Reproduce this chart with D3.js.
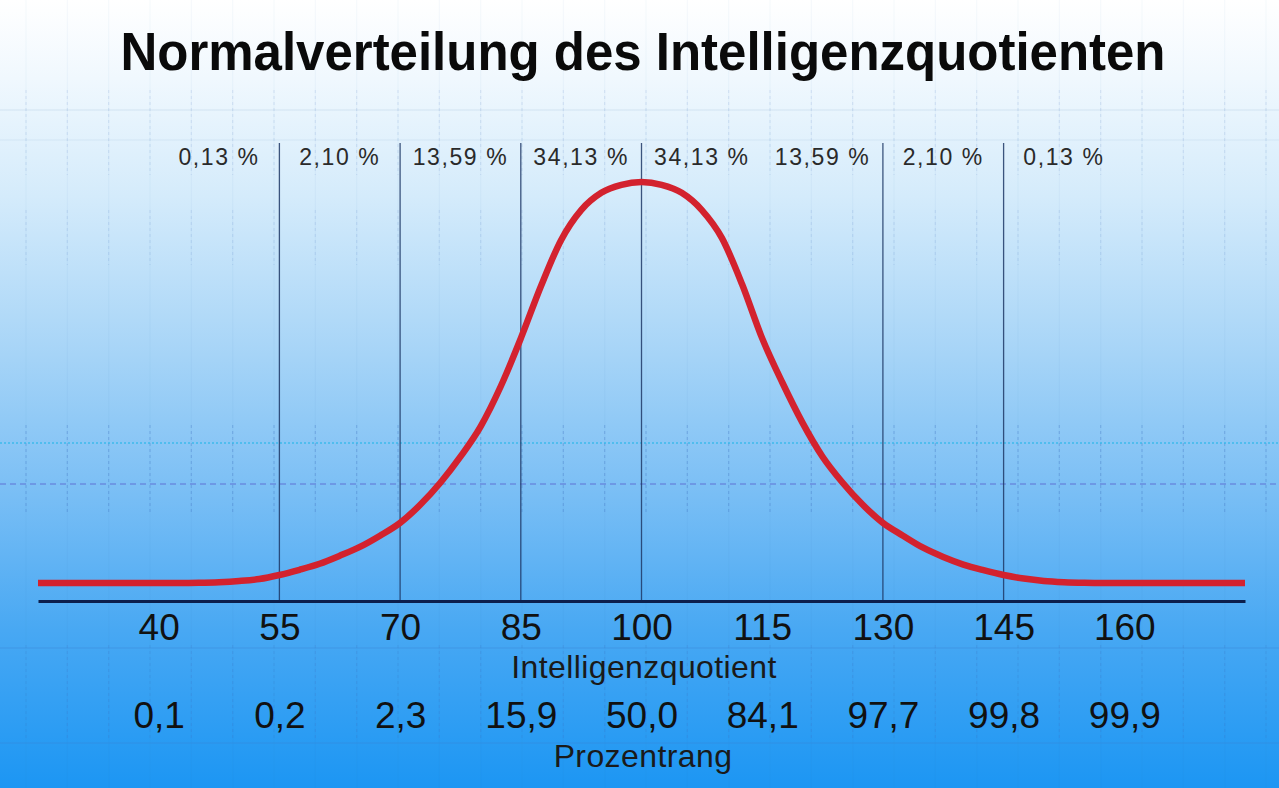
<!DOCTYPE html>
<html>
<head>
<meta charset="utf-8">
<script src="https://cdn.jsdelivr.net/npm/d3@7"></script>
<style>
  html, body { margin: 0; padding: 0; background: #fff; }
  svg { display: block; font-family: "Liberation Sans", Arial, sans-serif; }
</style>
</head>
<body>
<div class="chart"></div>
<script>
// IQ ticks along the axis and the matching percentile ranks
var iqTicks = [40, 55, 70, 85, 100, 115, 130, 145, 160];
var prozentrang = ["0,1", "0,2", "2,3", "15,9", "50,0", "84,1", "97,7", "99,8", "99,9"];

// share of the population in each band (label sits in the middle of the band)
var bandMid = [47.5, 62.5, 77.5, 92.5, 107.5, 122.5, 137.5, 152.5];
var bandLabels = ["0,13 %", "2,10 %", "13,59 %", "34,13 %", "34,13 %", "13,59 %", "2,10 %", "0,13  %"];

// vertical separators
var sigmaLines = [55, 70, 85, 100, 130, 145];

// bell curve: IQ and height in % of the peak
var curveIQ = [25, 40, 42.5, 45, 47.5, 50, 52.5, 55, 57.5, 60, 62.5, 65, 67.5, 70, 72.5, 75, 77.5,
               80, 82.5, 85, 87.5, 90, 92.5, 95, 97.5, 100, 102.5, 105, 107.5, 110, 112.5, 115,
               117.5, 120, 122.5, 125, 127.5, 130, 132.5, 135, 137.5, 140, 142.5, 145, 147.5,
               150, 152.5, 155, 157.5, 160, 175];
var curveHeight = [0, 0, 0, 0.05, 0.2, 0.5, 1.0, 2.0, 3.3, 4.8, 6.8, 9.0, 11.8, 15.0, 19.5, 25.0, 31.5,
                   39.0, 49.0, 61.0, 74.0, 85.5, 93.0, 97.3, 99.3, 100, 99.3, 97.3, 93.0, 86.0, 74.5, 61.0,
                   50.0, 40.0, 31.5, 25.0, 19.5, 15.0, 11.8, 8.8, 6.5, 4.6, 3.2, 2.0, 1.1,
                   0.5, 0.2, 0.05, 0, 0, 0];

var width = 1279, height = 788,
    axisY = 601;

var x = d3.scaleLinear().domain([25, 175]).range([38, 1245]);
var y = d3.scaleLinear().domain([0, 100]).range([583, 182]);

var svg = d3.select(".chart").append("svg")
    .attr("width", width)
    .attr("height", height);

// background gradient, white on top to bright blue at the bottom
var defs = svg.append("defs");
var grad = defs.append("linearGradient")
    .attr("id", "bg")
    .attr("x1", 0).attr("y1", 0).attr("x2", 0).attr("y2", 1);
[[0, "#ffffff"], [0.1, "#f0f8fe"], [0.25, "#d4ebfb"], [0.45, "#a6d4f7"],
 [0.62, "#7bbff5"], [0.8, "#48a8f3"], [1, "#1c96f3"]].forEach(function(s) {
  grad.append("stop").attr("offset", s[0]).attr("stop-color", s[1]);
});

svg.append("rect")
    .attr("width", width)
    .attr("height", height)
    .attr("fill", "url(#bg)");

// faint video-style grid in the background
var gx = d3.scaleLinear().domain([0, 30]).range([26, 1266]);
var gridCols = d3.range(0, 31);
var grid = svg.append("g").attr("class", "grid");

grid.selectAll(".gv")
    .data(gridCols)
  .enter().append("line")
    .attr("x1", d => gx(d)).attr("x2", d => gx(d))
    .attr("y1", 0).attr("y2", height)
    .style("stroke", "#3a78b8")
    .style("stroke-opacity", 0.05)
    .style("stroke-width", 1);

[[90, 175, 0.12], [210, 265, 0.12], [425, 512, 0.3], [645, 740, 0.18]].forEach(function(b) {
  grid.selectAll(null)
      .data(gridCols)
    .enter().append("line")
      .attr("x1", d => gx(d)).attr("x2", d => gx(d))
      .attr("y1", b[0]).attr("y2", b[1])
      .style("stroke", "#3f6fc0")
      .style("stroke-opacity", b[2])
      .style("stroke-dasharray", "3,3")
      .style("stroke-width", 1.2);
});

[[110, "#9bbcd8", 0.2, "none"], [140, "#9bbcd8", 0.15, "none"],
 [443, "#2bb6e8", 0.8, "2,2"], [484, "#5a62d0", 0.55, "6,4"],
 [648, "#3a7ed0", 0.25, "none"], [743, "#3a7ed0", 0.25, "none"]].forEach(function(h) {
  grid.append("line")
      .attr("x1", 0).attr("x2", width)
      .attr("y1", h[0]).attr("y2", h[0])
      .style("stroke", h[1])
      .style("stroke-opacity", h[2])
      .style("stroke-dasharray", h[3])
      .style("stroke-width", 1.5);
});

// title
svg.append("text")
    .attr("x", 643)
    .attr("y", 70)
    .attr("text-anchor", "middle")
    .attr("textLength", 1045)
    .attr("lengthAdjust", "spacingAndGlyphs")
    .style("font-size", "53px")
    .style("font-weight", "bold")
    .style("fill", "#0a0a0a")
    .text("Normalverteilung des Intelligenzquotienten");

// vertical lines
svg.selectAll(".sigma")
    .data(sigmaLines)
  .enter().append("line")
    .attr("class", "sigma")
    .attr("x1", d => x(d)).attr("x2", d => x(d))
    .attr("y1", 143).attr("y2", axisY)
    .style("stroke", "#1f3866")
    .style("stroke-opacity", 0.85)
    .style("stroke-width", 1.3);

// band percentages
svg.selectAll(".band")
    .data(bandMid)
  .enter().append("text")
    .attr("class", "band")
    .attr("x", d => x(d))
    .attr("y", 165)
    .attr("text-anchor", "middle")
    .style("font-size", "23px")
    .style("letter-spacing", "1.6px")
    .style("fill", "#2a2a2a")
    .text((d, i) => bandLabels[i]);

// the bell curve
var line = d3.line()
    .x(d => x(d[0]))
    .y(d => y(d[1]))
    .curve(d3.curveMonotoneX);

svg.append("path")
    .datum(curveIQ.map((v, i) => [v, curveHeight[i]]))
    .attr("d", line)
    .style("fill", "none")
    .style("stroke", "#d3222e")
    .style("stroke-width", 6.5)
    .style("stroke-linejoin", "round");

// IQ axis
var xAxis = d3.axisBottom(x)
    .tickValues(iqTicks)
    .tickSize(0)
    .tickSizeOuter(0)
    .tickPadding(13)
    .tickFormat(d => d);

var ax = svg.append("g")
    .attr("class", "x axis")
    .attr("transform", "translate(0," + axisY + ")")
    .call(xAxis);

ax.select(".domain")
    .style("stroke", "#0c1f4d")
    .style("stroke-width", 3);

ax.selectAll(".tick text")
    .style("font-family", "'Liberation Sans', Arial, sans-serif")
    .style("font-size", "37px")
    .style("fill", "#111");

svg.append("text")
    .attr("x", 644)
    .attr("y", 678)
    .attr("text-anchor", "middle")
    .style("font-size", "32px")
    .style("letter-spacing", "0.4px")
    .style("fill", "#1a1a1a")
    .text("Intelligenzquotient");

// percentile rank axis
var pAxis = d3.axisBottom(x)
    .tickValues(iqTicks)
    .tickSize(0)
    .tickSizeOuter(0)
    .tickPadding(101)
    .tickFormat((d, i) => prozentrang[i]);

var pa = svg.append("g")
    .attr("class", "p axis")
    .attr("transform", "translate(0," + axisY + ")")
    .call(pAxis);

pa.select(".domain").remove();

pa.selectAll(".tick text")
    .style("font-family", "'Liberation Sans', Arial, sans-serif")
    .style("font-size", "37px")
    .style("fill", "#111");

svg.append("text")
    .attr("x", 643)
    .attr("y", 767)
    .attr("text-anchor", "middle")
    .style("font-size", "32px")
    .style("letter-spacing", "0.4px")
    .style("fill", "#1a1a1a")
    .text("Prozentrang");
</script>
</body>
</html>
